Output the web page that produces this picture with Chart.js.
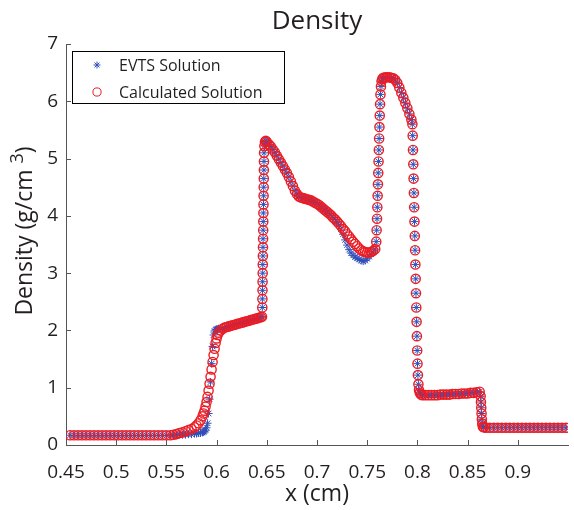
<!DOCTYPE html>
<html>
<head>
<meta charset="utf-8">
<script src="https://cdn.jsdelivr.net/npm/chart.js@4.4.0/dist/chart.umd.min.js"></script>
<style>
  html, body { margin: 0; padding: 0; background: #fff; }
  #wrap { width: 574px; height: 510px; position: relative; }
</style>
</head>
<body>
<div id="wrap"><canvas id="density"></canvas></div>
<script>
// --- data (x in cm, density in g/cm^3) ---

const xTicks = [0.45, 0.5, 0.55, 0.6, 0.65, 0.7, 0.75, 0.8, 0.85, 0.9];
const yTicks = [0, 1, 2, 3, 4, 5, 6, 7];

// undisturbed gas on the left, same in both runs
const flatLeft = [
  [0.454,0.17],[0.458,0.17],[0.462,0.17],[0.466,0.17],[0.470,0.17],[0.474,0.17],[0.478,0.17],
  [0.482,0.17],[0.486,0.17],[0.490,0.17],[0.494,0.17],[0.498,0.17],[0.502,0.17],[0.506,0.17],
  [0.510,0.17],[0.514,0.17],[0.518,0.17],[0.522,0.17],[0.526,0.17],[0.530,0.17],[0.534,0.17],
  [0.538,0.17],[0.542,0.17],[0.546,0.17],[0.550,0.17],[0.554,0.17]
];

// first rise near x = 0.59
const calcRise = [
  [0.557,0.18],[0.560,0.19],[0.563,0.21],[0.566,0.22],[0.569,0.24],[0.572,0.26],[0.575,0.28],
  [0.578,0.31],[0.580,0.34],[0.582,0.38],[0.584,0.43],[0.586,0.50],[0.587,0.55],[0.588,0.60],
  [0.589,0.67],[0.590,0.75],[0.591,0.84],[0.592,0.95],[0.593,1.07],[0.594,1.19],[0.595,1.32],
  [0.596,1.45],[0.597,1.57],[0.598,1.68],[0.599,1.78],[0.600,1.86],[0.601,1.92],[0.602,1.96],
  [0.604,2.00]
];
const evtsRise = [
  [0.557,0.17],[0.560,0.17],[0.563,0.18],[0.566,0.18],[0.569,0.18],[0.572,0.19],[0.575,0.19],
  [0.578,0.20],[0.580,0.20],[0.582,0.21],[0.584,0.21],[0.586,0.22],[0.587,0.23],[0.588,0.24],
  [0.589,0.26],[0.590,0.30],[0.591,0.38],[0.592,0.55],[0.593,0.80],[0.594,1.10],[0.595,1.42],
  [0.596,1.72],[0.597,1.92],[0.598,1.99],[0.599,2.01],[0.600,2.02],[0.601,2.02],[0.602,2.03],
  [0.604,2.03]
];

// plateau, shock at 0.646 and the first hump, same in both runs
const plateauAndHump = [
  [0.606,2.03],[0.608,2.05],[0.610,2.06],[0.612,2.07],[0.614,2.08],[0.616,2.09],[0.618,2.10],
  [0.620,2.11],[0.622,2.12],[0.624,2.13],[0.626,2.14],[0.628,2.15],[0.630,2.16],[0.632,2.17],
  [0.634,2.18],[0.636,2.19],[0.638,2.20],[0.640,2.21],[0.642,2.22],[0.644,2.23],[0.6452,2.24],
  [0.6455,2.40],[0.6456,2.55],[0.6457,2.70],[0.6458,2.85],[0.6459,3.00],[0.6460,3.15],
  [0.6461,3.30],[0.6462,3.45],[0.6463,3.60],[0.6464,3.75],[0.6465,3.90],[0.6466,4.05],
  [0.6467,4.20],[0.6468,4.35],[0.6469,4.50],[0.6470,4.65],[0.6471,4.80],[0.6472,4.95],
  [0.6473,5.10],[0.6476,5.22],[0.6482,5.29],[0.6490,5.31],[0.650,5.29],
  [0.652,5.25],[0.654,5.21],[0.656,5.16],[0.658,5.11],[0.660,5.05],[0.662,4.99],[0.664,4.93],
  [0.666,4.87],[0.668,4.81],[0.670,4.75],[0.672,4.68],[0.674,4.60],[0.676,4.52],[0.678,4.44],
  [0.680,4.38],[0.682,4.34],[0.684,4.32],[0.686,4.31],[0.688,4.30],[0.690,4.29],[0.692,4.28],
  [0.694,4.27],[0.696,4.25],[0.698,4.23],[0.700,4.21],[0.702,4.19],[0.704,4.16],[0.706,4.13],
  [0.708,4.10],[0.710,4.07],[0.712,4.04],[0.714,4.01],[0.716,3.97],[0.718,3.94]
];

// valley before the contact, where the two runs part
const calcDip = [
  [0.720,3.90],[0.722,3.86],[0.724,3.82],[0.726,3.77],[0.728,3.73],[0.730,3.68],[0.732,3.64],
  [0.734,3.59],[0.736,3.55],[0.738,3.51],[0.740,3.47],[0.742,3.43],[0.744,3.40],[0.746,3.38],
  [0.748,3.37],[0.750,3.36],[0.752,3.36],[0.754,3.37],[0.756,3.39],[0.758,3.42]
];
const evtsDip = [
  [0.720,3.89],[0.722,3.84],[0.724,3.77],[0.726,3.68],[0.728,3.58],[0.730,3.49],[0.732,3.41],
  [0.734,3.35],[0.736,3.31],[0.738,3.28],[0.740,3.26],[0.742,3.24],[0.744,3.22],[0.746,3.21],
  [0.748,3.22],[0.750,3.25],[0.752,3.29],[0.754,3.33],[0.756,3.37],[0.758,3.42]
];

// peak, drop at 0.797, second plateau, drop at 0.864 and right state
const peakAndTail = [
  [0.7590,3.55],[0.7594,3.75],[0.7598,3.95],[0.7601,4.15],[0.7604,4.35],[0.7607,4.55],
  [0.7610,4.75],[0.7613,4.95],[0.7616,5.15],[0.7619,5.35],[0.7622,5.55],[0.7625,5.75],
  [0.7628,5.95],[0.7632,6.12],[0.7637,6.26],[0.7643,6.35],[0.7650,6.39],
  [0.766,6.41],[0.768,6.42],[0.770,6.42],[0.772,6.42],[0.774,6.41],[0.776,6.40],[0.778,6.37],
  [0.780,6.32],[0.782,6.24],[0.784,6.15],[0.786,6.06],[0.788,5.97],[0.790,5.88],[0.792,5.78],
  [0.794,5.68],[0.795,5.60],
  [0.7953,5.40],[0.7956,5.15],[0.7959,4.90],[0.7962,4.65],[0.7965,4.40],[0.7968,4.15],
  [0.7971,3.90],[0.7974,3.65],[0.7977,3.40],[0.7980,3.15],[0.7983,2.90],[0.7986,2.65],
  [0.7989,2.40],[0.7992,2.15],[0.7995,1.90],[0.7998,1.65],[0.8001,1.42],[0.8005,1.22],
  [0.8010,1.06],[0.8016,0.96],[0.8024,0.91],[0.8035,0.88],
  [0.805,0.87],[0.808,0.87],[0.811,0.87],[0.814,0.87],[0.817,0.87],[0.820,0.87],[0.823,0.88],
  [0.826,0.88],[0.829,0.88],[0.832,0.88],[0.835,0.89],[0.838,0.89],[0.841,0.89],[0.844,0.90],
  [0.847,0.90],[0.850,0.90],[0.853,0.91],[0.856,0.91],[0.859,0.92],[0.862,0.93],
  [0.8630,0.85],[0.8633,0.75],[0.8636,0.65],[0.8639,0.55],[0.8642,0.45],[0.8646,0.37],
  [0.8652,0.32],[0.866,0.31],
  [0.868,0.30],[0.872,0.30],[0.876,0.30],[0.880,0.30],[0.884,0.30],[0.888,0.30],[0.892,0.30],
  [0.896,0.30],[0.900,0.30],[0.904,0.30],[0.908,0.30],[0.912,0.30],[0.916,0.30],[0.920,0.30],
  [0.924,0.30],[0.928,0.30],[0.932,0.30],[0.936,0.30],[0.940,0.30],[0.944,0.30],[0.948,0.30]
];

const evtsPoints = [...flatLeft, ...evtsRise, ...plateauAndHump, ...evtsDip, ...peakAndTail];
const calcPoints = [...flatLeft, ...calcRise, ...plateauAndHump, ...calcDip, ...peakAndTail];

// --- styling ---

const FONT = "'Open Sans', sans-serif";
const TEXT = '#231f20';
const AXIS = '#555555';
const BLUE = '#3050b8';
const RED = '#ec1c24';

Chart.defaults.font.family = FONT;
Chart.defaults.color = TEXT;

const toXY = arr => arr.map(([x, y]) => ({ x, y }));

// matlab style ticks, pointing into the plot
const insideTicks = {
  id: 'insideTicks',
  afterDatasetsDraw(chart) {
    const { ctx, chartArea: a, scales: { x, y } } = chart;
    ctx.save();
    ctx.strokeStyle = AXIS;
    ctx.lineWidth = 1;
    ctx.beginPath();
    x.ticks.forEach(t => {
      const px = Math.round(x.getPixelForValue(t.value)) + 0.5;
      ctx.moveTo(px, a.bottom);
      ctx.lineTo(px, a.bottom - 5);
    });
    y.ticks.forEach(t => {
      const py = Math.round(y.getPixelForValue(t.value)) + 0.5;
      ctx.moveTo(a.left, py);
      ctx.lineTo(a.left + 5, py);
    });
    ctx.stroke();
    ctx.restore();
  }
};

// y title with a raised 3
const yTitle = {
  id: 'yTitle',
  afterDraw(chart) {
    const { ctx } = chart;
    const big = `23px ${FONT}`, small = `18px ${FONT}`;
    const a = 'Density (g/cm ', b = '3', c = ')';
    ctx.save();
    ctx.translate(25, 231);
    ctx.rotate(-Math.PI / 2);
    ctx.fillStyle = TEXT;
    ctx.textBaseline = 'middle';
    ctx.textAlign = 'left';
    ctx.font = big;
    const wa = ctx.measureText(a).width, wc = ctx.measureText(c).width;
    ctx.font = small;
    const wb = ctx.measureText(b).width;
    const x0 = -(wa + wb + wc) / 2;
    ctx.font = big;
    ctx.fillText(a, x0, 0);
    ctx.font = small;
    ctx.fillText(b, x0 + wa, -7);
    ctx.font = big;
    ctx.fillText(c, x0 + wa + wb, 0);
    ctx.restore();
  }
};

// boxed legend in the top-left corner of the axes
const boxLegend = {
  id: 'boxLegend',
  afterDraw(chart) {
    const { ctx, chartArea: a } = chart;
    const bx = a.left + 6, by = a.top + 7, bw = 212, bh = 52;
    ctx.save();
    ctx.fillStyle = '#fff';
    ctx.fillRect(bx, by, bw, bh);
    ctx.strokeStyle = '#000';
    ctx.lineWidth = 1;
    ctx.strokeRect(bx + 0.5, by + 0.5, bw, bh);
    ctx.font = `16px ${FONT}`;
    ctx.textBaseline = 'middle';
    chart.data.datasets.forEach((ds, i) => {
      const cy = by + 14 + i * 27;
      ctx.strokeStyle = ds.pointBorderColor;
      ctx.fillStyle = 'rgba(0,0,0,0)';
      Chart.helpers.drawPoint(ctx, {
        pointStyle: ds.pointStyle, radius: ds.pointRadius - 0.5,
        borderWidth: ds.pointBorderWidth, rotation: 0
      }, bx + 25, cy);
      ctx.fillStyle = TEXT;
      ctx.fillText(ds.label, bx + 47, cy + 1);
    });
    ctx.restore();
  }
};

const axisBase = {
  grid: { display: true, drawOnChartArea: false, drawTicks: false },
  border: { display: true, color: AXIS, width: 1 }
};

new Chart(document.getElementById('density'), {
  type: 'scatter',
  data: {
    datasets: [
      {
        label: 'EVTS Solution',
        data: toXY(evtsPoints),
        pointStyle: 'star',
        pointRadius: 4,
        pointBorderWidth: 1,
        pointBorderColor: BLUE,
        pointBackgroundColor: 'transparent',
        borderColor: BLUE,
        showLine: false,
        order: 1
      },
      {
        label: 'Calculated Solution',
        data: toXY(calcPoints),
        pointStyle: 'circle',
        pointRadius: 4.6,
        pointBorderWidth: 1.4,
        pointBorderColor: RED,
        pointBackgroundColor: 'transparent',
        borderColor: RED,
        showLine: false,
        order: 0
      }
    ]
  },
  options: {
    responsive: true,
    maintainAspectRatio: false,
    animation: false,
    events: [],
    layout: { padding: 0 },
    plugins: {
      legend: { display: false },
      tooltip: { enabled: false },
      title: {
        display: true,
        text: 'Density',
        fullSize: false,
        color: TEXT,
        font: { size: 26, weight: 'normal' },
        padding: { top: 6, bottom: 6.8 }
      }
    },
    scales: {
      x: {
        ...axisBase,
        type: 'linear',
        min: 0.45,
        max: 0.95,
        afterBuildTicks: s => { s.ticks = xTicks.map(v => ({ value: v })); },
        afterFit: s => { s.height = 65; },
        ticks: { font: { size: 19 }, color: TEXT, padding: 16, maxRotation: 0, autoSkip: false, callback: v => String(v) },
        title: { display: true, text: 'x (cm)', color: TEXT, font: { size: 23 }, padding: { top: 0, bottom: 2 } }
      },
      y: {
        ...axisBase,
        min: 0,
        max: 7,
        afterBuildTicks: s => { s.ticks = yTicks.map(v => ({ value: v })); },
        afterFit: s => { s.width = 66; },
        ticks: { font: { size: 19 }, color: TEXT, padding: 8, callback: v => String(v) }
      }
    }
  },
  plugins: [insideTicks, yTitle, boxLegend]
});
</script>
</body>
</html>
